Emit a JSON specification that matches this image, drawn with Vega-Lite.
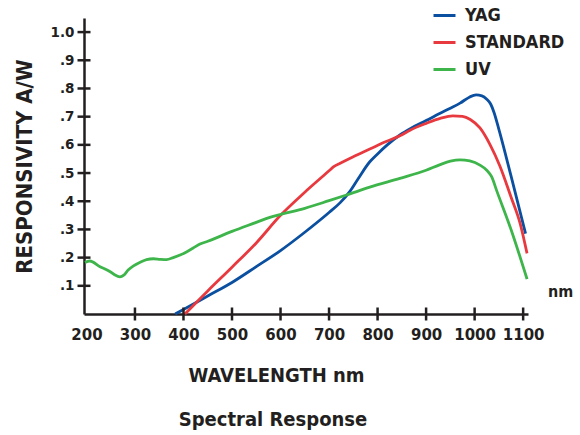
{
  "$schema": "https://vega.github.io/schema/vega-lite/v6.json",
  "width": 444,
  "height": 296,
  "autosize": {"type": "none"},
  "padding": {"left": 84, "top": 18, "right": 52, "bottom": 121},
  "background": "#ffffff",
  "config": {
    "view": {"stroke": null},
    "axis": {"grid": false}
  },
  "title": {
    "text": "Spectral Response",
    "orient": "bottom",
    "anchor": "middle",
    "font": "DejaVu Sans Condensed, Liberation Sans",
    "fontSize": 20,
    "fontWeight": "bold",
    "color": "#231f20",
    "dx": -33,
    "offset": 25
  },
  "datasets": {
    "curves": [
      {"series": "YAG", "wl": 383, "r": 0.0},
      {"series": "YAG", "wl": 400, "r": 0.016},
      {"series": "YAG", "wl": 450, "r": 0.064},
      {"series": "YAG", "wl": 500, "r": 0.112},
      {"series": "YAG", "wl": 550, "r": 0.168},
      {"series": "YAG", "wl": 600, "r": 0.225},
      {"series": "YAG", "wl": 650, "r": 0.29},
      {"series": "YAG", "wl": 700, "r": 0.36},
      {"series": "YAG", "wl": 723, "r": 0.395},
      {"series": "YAG", "wl": 743, "r": 0.435},
      {"series": "YAG", "wl": 760, "r": 0.48},
      {"series": "YAG", "wl": 784, "r": 0.54},
      {"series": "YAG", "wl": 800, "r": 0.568},
      {"series": "YAG", "wl": 820, "r": 0.6},
      {"series": "YAG", "wl": 846, "r": 0.635},
      {"series": "YAG", "wl": 870, "r": 0.66},
      {"series": "YAG", "wl": 900, "r": 0.686},
      {"series": "YAG", "wl": 929, "r": 0.712},
      {"series": "YAG", "wl": 950, "r": 0.73},
      {"series": "YAG", "wl": 970, "r": 0.748},
      {"series": "YAG", "wl": 990, "r": 0.77},
      {"series": "YAG", "wl": 1003, "r": 0.777},
      {"series": "YAG", "wl": 1015, "r": 0.774},
      {"series": "YAG", "wl": 1025, "r": 0.762},
      {"series": "YAG", "wl": 1033, "r": 0.745},
      {"series": "YAG", "wl": 1040, "r": 0.715},
      {"series": "YAG", "wl": 1050, "r": 0.655},
      {"series": "YAG", "wl": 1075, "r": 0.49},
      {"series": "YAG", "wl": 1105, "r": 0.285},
      {"series": "STANDARD", "wl": 403, "r": 0.0},
      {"series": "STANDARD", "wl": 450, "r": 0.082},
      {"series": "STANDARD", "wl": 500, "r": 0.166},
      {"series": "STANDARD", "wl": 550, "r": 0.252},
      {"series": "STANDARD", "wl": 600, "r": 0.35},
      {"series": "STANDARD", "wl": 650, "r": 0.432},
      {"series": "STANDARD", "wl": 700, "r": 0.508},
      {"series": "STANDARD", "wl": 709, "r": 0.522},
      {"series": "STANDARD", "wl": 723, "r": 0.535},
      {"series": "STANDARD", "wl": 750, "r": 0.558},
      {"series": "STANDARD", "wl": 784, "r": 0.585},
      {"series": "STANDARD", "wl": 815, "r": 0.61},
      {"series": "STANDARD", "wl": 846, "r": 0.632},
      {"series": "STANDARD", "wl": 867, "r": 0.652},
      {"series": "STANDARD", "wl": 900, "r": 0.676},
      {"series": "STANDARD", "wl": 929, "r": 0.694},
      {"series": "STANDARD", "wl": 955, "r": 0.703},
      {"series": "STANDARD", "wl": 975, "r": 0.701},
      {"series": "STANDARD", "wl": 991, "r": 0.69},
      {"series": "STANDARD", "wl": 1011, "r": 0.66},
      {"series": "STANDARD", "wl": 1032, "r": 0.6},
      {"series": "STANDARD", "wl": 1052, "r": 0.525},
      {"series": "STANDARD", "wl": 1075, "r": 0.415},
      {"series": "STANDARD", "wl": 1094, "r": 0.32},
      {"series": "STANDARD", "wl": 1108, "r": 0.215},
      {"series": "UV", "wl": 197, "r": 0.183},
      {"series": "UV", "wl": 207, "r": 0.188},
      {"series": "UV", "wl": 228, "r": 0.168},
      {"series": "UV", "wl": 249, "r": 0.15},
      {"series": "UV", "wl": 259, "r": 0.138},
      {"series": "UV", "wl": 269, "r": 0.132},
      {"series": "UV", "wl": 277, "r": 0.138},
      {"series": "UV", "wl": 286, "r": 0.156},
      {"series": "UV", "wl": 297, "r": 0.171},
      {"series": "UV", "wl": 310, "r": 0.183},
      {"series": "UV", "wl": 324, "r": 0.193},
      {"series": "UV", "wl": 338, "r": 0.196},
      {"series": "UV", "wl": 352, "r": 0.194},
      {"series": "UV", "wl": 365, "r": 0.193},
      {"series": "UV", "wl": 379, "r": 0.2},
      {"series": "UV", "wl": 393, "r": 0.209},
      {"series": "UV", "wl": 407, "r": 0.221},
      {"series": "UV", "wl": 420, "r": 0.234},
      {"series": "UV", "wl": 434, "r": 0.248},
      {"series": "UV", "wl": 450, "r": 0.258},
      {"series": "UV", "wl": 500, "r": 0.293},
      {"series": "UV", "wl": 550, "r": 0.325},
      {"series": "UV", "wl": 578, "r": 0.343},
      {"series": "UV", "wl": 602, "r": 0.354},
      {"series": "UV", "wl": 650, "r": 0.375},
      {"series": "UV", "wl": 700, "r": 0.402},
      {"series": "UV", "wl": 736, "r": 0.422},
      {"series": "UV", "wl": 784, "r": 0.45},
      {"series": "UV", "wl": 846, "r": 0.481},
      {"series": "UV", "wl": 900, "r": 0.51},
      {"series": "UV", "wl": 929, "r": 0.53},
      {"series": "UV", "wl": 950, "r": 0.542},
      {"series": "UV", "wl": 970, "r": 0.547},
      {"series": "UV", "wl": 990, "r": 0.543},
      {"series": "UV", "wl": 1011, "r": 0.528},
      {"series": "UV", "wl": 1025, "r": 0.51},
      {"series": "UV", "wl": 1035, "r": 0.487},
      {"series": "UV", "wl": 1046, "r": 0.435},
      {"series": "UV", "wl": 1075, "r": 0.3},
      {"series": "UV", "wl": 1108, "r": 0.124}
    ],
    "xticks": [
      {"wl": 300, "r": 0}, {"wl": 400, "r": 0}, {"wl": 500, "r": 0},
      {"wl": 600, "r": 0}, {"wl": 700, "r": 0}, {"wl": 800, "r": 0},
      {"wl": 900, "r": 0}, {"wl": 1000, "r": 0}, {"wl": 1100, "r": 0}
    ],
    "yticks": [
      {"wl": 195, "r": 0.1}, {"wl": 195, "r": 0.2}, {"wl": 195, "r": 0.3},
      {"wl": 195, "r": 0.4}, {"wl": 195, "r": 0.5}, {"wl": 195, "r": 0.6},
      {"wl": 195, "r": 0.7}, {"wl": 195, "r": 0.8}, {"wl": 195, "r": 0.9},
      {"wl": 195, "r": 1.0}
    ],
    "notes": [{"wl": 1151, "r": 0.06, "label": "nm"}]
  },
  "encoding": {
    "x": {
      "field": "wl",
      "type": "quantitative",
      "scale": {"domain": [195, 1110], "nice": false, "zero": false},
      "axis": {
        "values": [200, 300, 400, 500, 600, 700, 800, 900, 1000, 1100],
        "format": "d",
        "ticks": false,
        "domainColor": "#231f20",
        "domainWidth": 2.5,
        "labelFont": "DejaVu Sans",
        "labelFontWeight": "bold",
        "labelFontSize": 15,
        "labelColor": "#231f20",
        "labelPadding": 13,
        "labelFlush": false,
        "labelOverlap": false,
        "title": "WAVELENGTH nm",
        "titleFont": "DejaVu Sans Condensed, Liberation Sans",
        "titleFontWeight": "bold",
        "titleFontSize": 20,
        "titleColor": "#231f20",
        "titleX": 192,
        "titleY": 67,
        "titleAlign": "center",
        "titleBaseline": "alphabetic"
      }
    },
    "y": {
      "field": "r",
      "type": "quantitative",
      "scale": {"domain": [0, 1.05], "nice": false},
      "axis": {
        "values": [0.1, 0.2, 0.3, 0.4, 0.5, 0.6, 0.7, 0.8, 0.9, 1.0],
        "ticks": false,
        "domainColor": "#231f20",
        "domainWidth": 2.5,
        "labelFont": "DejaVu Sans",
        "labelFontWeight": "bold",
        "labelFontSize": 13.5,
        "labelColor": "#231f20",
        "labelPadding": 10,
        "labelExpr": "datum.value >= 1 ? '1.0' : '.' + format(datum.value * 10, 'd')",
        "title": "RESPONSIVITY A/W",
        "titleFont": "DejaVu Sans Condensed, Liberation Sans",
        "titleFontWeight": "bold",
        "titleFontSize": 22,
        "titleColor": "#231f20",
        "titleX": -60,
        "titleY": 148,
        "titleAngle": -90,
        "titleAlign": "center",
        "titleBaseline": "middle"
      }
    }
  },
  "layer": [
    {
      "data": {"name": "curves"},
      "mark": {"type": "line", "interpolate": "monotone", "strokeWidth": 2.8},
      "encoding": {
        "color": {
          "field": "series",
          "type": "nominal",
          "scale": {"domain": ["YAG", "STANDARD", "UV"], "range": ["#0b4fa0", "#e8393f", "#3db54a"]},
          "legend": {
            "title": null,
            "orient": "none",
            "legendX": 348,
            "legendY": -15,
            "padding": 0,
            "symbolType": "stroke",
            "symbolSize": 484,
            "symbolStrokeWidth": 3,
            "labelFont": "DejaVu Sans Condensed, Liberation Sans",
            "labelFontWeight": "bold",
            "labelFontSize": 18,
            "labelColor": "#231f20",
            "labelOffset": 8,
            "rowPadding": 5
          }
        }
      }
    },
    {
      "data": {"name": "xticks"},
      "mark": {"type": "tick", "orient": "vertical", "size": 13, "thickness": 2.5, "color": "#231f20", "opacity": 1}
    },
    {
      "data": {"name": "yticks"},
      "mark": {"type": "tick", "orient": "horizontal", "size": 13, "thickness": 2.5, "color": "#231f20", "opacity": 1}
    },
    {
      "data": {"name": "notes"},
      "mark": {"type": "text", "align": "left", "baseline": "alphabetic", "font": "DejaVu Sans Condensed, Liberation Sans", "fontWeight": "bold", "fontSize": 16, "color": "#231f20"},
      "encoding": {"text": {"field": "label"}}
    }
  ]
}
